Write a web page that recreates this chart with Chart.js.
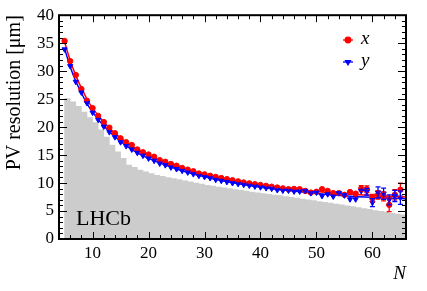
<!DOCTYPE html>
<html>
<head>
<meta charset="utf-8">
<script src="https://cdn.jsdelivr.net/npm/chart.js@4/dist/chart.umd.min.js"></script>
<style>
  html, body { margin: 0; padding: 0; background: #fff; }
  #pv { display: block; }
</style>
</head>
<body>
<canvas id="pv" width="427" height="291"></canvas>
<script>
// number of tracks N (one point per N)
const nVals = [
  5, 6, 7, 8, 9, 10, 11, 12, 13, 14,
  15, 16, 17, 18, 19, 20, 21, 22, 23, 24,
  25, 26, 27, 28, 29, 30, 31, 32, 33, 34,
  35, 36, 37, 38, 39, 40, 41, 42, 43, 44,
  45, 46, 47, 48, 49, 50, 51, 52, 53, 54,
  55, 56, 57, 58, 59, 60, 61, 62, 63, 64, 65
];

// x resolution [um]
const resX = [
  35.4, 31.8, 29.3, 26.8, 24.7, 23.4, 22.0, 20.9, 19.9, 18.9,
  18.0, 17.3, 16.8, 16.0, 15.5, 15.1, 14.7, 14.1, 13.8, 13.4,
  13.1, 12.7, 12.4, 12.1, 11.7, 11.55, 11.3, 11.1, 10.9, 10.7,
  10.5, 10.3, 10.1, 9.95, 9.8, 9.65, 9.5, 9.35, 9.2, 9.05,
  8.9, 8.95, 8.9, 8.6, 8.3, 8.45, 8.9, 8.6, 8.2, 8.2,
  7.9, 8.4, 8.1, 9.0, 8.9, 7.3, 7.9, 7.6, 6.1, 7.9, 8.8
];
const errX = [
  0.15, 0.15, 0.15, 0.15, 0.15, 0.15, 0.15, 0.15, 0.15, 0.15,
  0.15, 0.15, 0.15, 0.15, 0.15, 0.15, 0.15, 0.15, 0.15, 0.15,
  0.15, 0.15, 0.15, 0.15, 0.15, 0.15, 0.15, 0.15, 0.15, 0.15,
  0.2, 0.2, 0.2, 0.2, 0.2, 0.2, 0.2, 0.2, 0.2, 0.2,
  0.25, 0.25, 0.25, 0.3, 0.3, 0.3, 0.35, 0.35, 0.35, 0.4,
  0.4, 0.45, 0.45, 0.55, 0.6, 0.65, 0.75, 0.8, 1.2, 0.9, 1.2
];

// y resolution [um]
const resY = [
  33.9, 30.9, 28.1, 26.2, 24.3, 22.6, 21.3, 20.1, 19.1, 18.2,
  17.3, 16.6, 16.0, 15.4, 14.9, 14.4, 14.0, 13.5, 13.2, 12.8,
  12.5, 12.2, 11.9, 11.6, 11.3, 11.1, 10.9, 10.6, 10.4, 10.2,
  10.0, 9.85, 9.7, 9.55, 9.4, 9.25, 9.1, 9.0, 8.75, 8.65,
  8.65, 8.5, 8.5, 8.6, 8.2, 8.3, 7.7, 8.0, 7.6, 8.2,
  7.8, 7.1, 7.1, 8.6, 8.45, 6.5, 8.3, 8.1, 7.0, 7.7, 7.4
];
const errY = [
  0.15, 0.15, 0.15, 0.15, 0.15, 0.15, 0.15, 0.15, 0.15, 0.15,
  0.15, 0.15, 0.15, 0.15, 0.15, 0.15, 0.15, 0.15, 0.15, 0.15,
  0.15, 0.15, 0.15, 0.15, 0.15, 0.15, 0.15, 0.15, 0.15, 0.15,
  0.2, 0.2, 0.2, 0.2, 0.2, 0.2, 0.2, 0.2, 0.2, 0.2,
  0.25, 0.25, 0.25, 0.3, 0.3, 0.3, 0.35, 0.35, 0.35, 0.4,
  0.4, 0.45, 0.45, 0.5, 0.6, 0.7, 1.0, 1.0, 0.9, 1.0, 1.2
];

// fitted curves, read at a few N
const fitN    = [5, 6, 7, 8, 9, 10, 12, 14, 16, 18, 20, 25, 30, 35, 40, 45, 50, 55, 60, 66];
const fitResX = [35.2, 31.9, 29.2, 27.0, 25.0, 23.4, 20.9, 18.9, 17.3, 16.0, 14.9, 13.0, 11.55, 10.5, 9.65, 9.0, 8.5, 8.1, 7.8, 7.5];
const fitResY = [34.0, 30.8, 28.2, 26.1, 24.2, 22.7, 20.2, 18.3, 16.7, 15.4, 14.4, 12.5, 11.1, 10.05, 9.25, 8.65, 8.15, 7.75, 7.45, 7.2];

// N distribution (arbitrary scale), bins [N, N+1)
const histN = [
  25.1, 24.5, 23.7, 22.7, 21.7, 20.8, 19.5, 18.2, 16.8, 15.6,
  14.4, 13.2, 12.8, 12.3, 12.0, 11.7, 11.4, 11.2, 11.0, 10.8,
  10.6, 10.4, 10.2, 10.0, 9.8, 9.6, 9.45, 9.3, 9.15, 9.0,
  8.85, 8.7, 8.55, 8.4, 8.25, 8.1, 8.0, 7.85, 7.75, 7.6,
  7.45, 7.3, 7.15, 7.0, 6.85, 6.7, 6.55, 6.4, 6.25, 6.1,
  5.95, 5.8, 5.6, 5.45, 5.3, 5.1, 4.95, 4.8, 4.6, 4.45, 4.3
];

const xTicks = [10, 20, 30, 40, 50, 60];
const yTicks = [0, 5, 10, 15, 20, 25, 30, 35, 40];

const RED = '#ff0000';
const BLUE = '#0000ff';
const SERIF = '"Liberation Serif", "Times New Roman", serif';

// frame, root-style inward ticks, error bars, legend and label
const decor = {
  id: 'decor',
  afterDatasetsDraw(chart) {
    const { ctx, scales: { x, y } } = chart;
    [[resX, errX, RED], [resY, errY, BLUE]].forEach(([vals, errs, col]) => {
      ctx.save();
      ctx.strokeStyle = col;
      ctx.lineWidth = 1.3;
      vals.forEach((v, i) => {
        const px = x.getPixelForValue(nVals[i]);
        const lo = y.getPixelForValue(v - errs[i]);
        const hi = y.getPixelForValue(v + errs[i]);
        ctx.beginPath();
        ctx.moveTo(px, lo);
        ctx.lineTo(px, hi);
        if (lo - hi > 6) {
          ctx.moveTo(px - 2.5, lo); ctx.lineTo(px + 2.5, lo);
          ctx.moveTo(px - 2.5, hi); ctx.lineTo(px + 2.5, hi);
        }
        ctx.stroke();
      });
      ctx.restore();
    });
  },
  afterDraw(chart) {
    const { ctx, chartArea: a, scales: { x, y } } = chart;
    ctx.save();
    ctx.strokeStyle = '#000';
    ctx.lineWidth = 1;
    ctx.beginPath();
    for (let v = 4; v <= 66; v += 2) {
      const px = Math.round(x.getPixelForValue(v)) + 0.5;
      const len = v % 10 === 0 ? 7 : 4;
      ctx.moveTo(px, a.bottom); ctx.lineTo(px, a.bottom - len);
      ctx.moveTo(px, a.top); ctx.lineTo(px, a.top + len);
    }
    for (let v = 0; v <= 40; v += 1) {
      const py = Math.round(y.getPixelForValue(v)) + 0.5;
      const len = v % 5 === 0 ? 8 : 4;
      ctx.moveTo(a.left, py); ctx.lineTo(a.left + len, py);
      ctx.moveTo(a.right, py); ctx.lineTo(a.right - len, py);
    }
    ctx.stroke();
    ctx.lineWidth = 2;
    ctx.strokeRect(a.left, a.top, a.right - a.left, a.bottom - a.top);

    // LHCb
    ctx.fillStyle = '#000';
    ctx.font = '22px ' + SERIF;
    ctx.textBaseline = 'alphabetic';
    ctx.textAlign = 'left';
    ctx.fillText('LHCb', 76, 225);

    // legend
    const items = [['x', RED, 'circle', 0], ['y', BLUE, 'triangle', 180]];
    items.forEach(([label, col, style, rot], i) => {
      const cy = 40 + i * 22;
      ctx.strokeStyle = col;
      ctx.fillStyle = col;
      ctx.lineWidth = 1.3;
      ctx.beginPath();
      ctx.moveTo(343, cy); ctx.lineTo(353, cy);
      ctx.stroke();
      Chart.helpers.drawPoint(ctx, { pointStyle: style, rotation: rot, radius: 2.8, borderWidth: 1 }, 348, cy);
      ctx.fillStyle = '#000';
      ctx.font = 'italic 19px ' + SERIF;
      ctx.textBaseline = 'middle';
      ctx.fillText(label, 361, cy - 1);
    });
    ctx.restore();
  }
};

new Chart(document.getElementById('pv'), {
  type: 'bar',
  data: {
    datasets: [
      {
        type: 'line',
        label: 'x',
        data: nVals.map((n, i) => ({ x: n, y: resX[i] })),
        showLine: false,
        pointStyle: 'circle',
        pointRadius: 2.7,
        pointBackgroundColor: RED,
        pointBorderColor: RED,
        pointBorderWidth: 1,
        order: 1
      },
      {
        type: 'line',
        label: 'y',
        data: nVals.map((n, i) => ({ x: n, y: resY[i] })),
        showLine: false,
        pointStyle: 'triangle',
        rotation: 180,
        pointRadius: 3,
        pointBackgroundColor: BLUE,
        pointBorderColor: BLUE,
        pointBorderWidth: 1,
        order: 0
      },
      {
        type: 'line',
        label: 'fit x',
        data: fitN.map((n, i) => ({ x: n, y: fitResX[i] })),
        borderColor: RED,
        borderWidth: 1.5,
        pointRadius: 0,
        cubicInterpolationMode: 'monotone',
        order: 2
      },
      {
        type: 'line',
        label: 'fit y',
        data: fitN.map((n, i) => ({ x: n, y: fitResY[i] })),
        borderColor: BLUE,
        borderWidth: 1.5,
        pointRadius: 0,
        cubicInterpolationMode: 'monotone',
        order: 2
      },
      {
        type: 'bar',
        label: 'N',
        data: nVals.map((n, i) => ({ x: n + 0.5, y: histN[i] })),
        backgroundColor: '#cccccc',
        borderWidth: 0,
        barPercentage: 1,
        categoryPercentage: 1,
        order: 5
      }
    ]
  },
  options: {
    responsive: false,
    animation: false,
    layout: { padding: { top: 15, right: 21, left: 0, bottom: 0 } },
    plugins: { legend: { display: false }, tooltip: { enabled: false } },
    scales: {
      x: {
        type: 'linear',
        min: 4,
        max: 66,
        offset: false,
        grid: { display: false, drawTicks: false, offset: false },
        border: { display: false },
        afterBuildTicks: s => { s.ticks = xTicks.map(v => ({ value: v })); },
        afterFit: s => { s.height = 52; },
        ticks: { color: '#000', font: { family: SERIF, size: 17 }, padding: 4, maxRotation: 0 },
        title: {
          display: true, text: 'N', align: 'end', color: '#000',
          font: { family: SERIF, size: 19, style: 'italic' }, padding: { top: 0, bottom: 6 }
        }
      },
      y: {
        min: 0,
        max: 40,
        grid: { display: false, drawTicks: false },
        border: { display: false },
        afterBuildTicks: s => { s.ticks = yTicks.map(v => ({ value: v })); },
        afterFit: s => { s.width = 59; },
        ticks: { color: '#000', font: { family: SERIF, size: 17 }, padding: 5 },
        title: {
          display: true, text: 'PV resolution [μm]', align: 'end', color: '#000',
          font: { family: SERIF, size: 20 }, padding: { top: 3, bottom: 0 }
        }
      }
    }
  },
  plugins: [decor]
});
</script>
</body>
</html>
